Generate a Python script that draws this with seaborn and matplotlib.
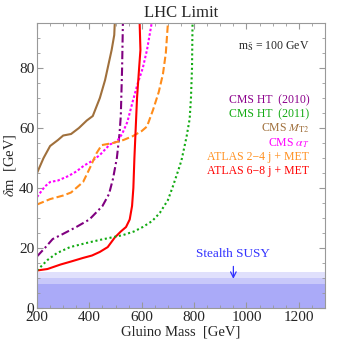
import matplotlib
matplotlib.use("Agg")
import matplotlib.pyplot as plt
import seaborn as sns
import pandas as pd
from matplotlib.ticker import MultipleLocator

# curve data (gluino mass [GeV], delta m [GeV])
mt2_x = [200, 225, 250, 280, 300, 330, 360, 390, 413, 440, 460, 470, 485, 495, 497]
mt2_y = [45, 50, 54, 56, 57.5, 58, 60, 62.5, 64, 70, 76, 80, 86, 91, 95]

ht10_x = [200, 230, 260, 295, 350, 400, 450, 475, 490, 505, 515, 520, 525, 528]
ht10_y = [17.2, 20, 23, 24.5, 27, 29.5, 34, 38, 43, 50, 58, 64, 80, 95]

alphat_x = [200, 230, 250, 280, 320, 350, 380, 410, 440, 478, 505, 525, 545, 566, 585, 604, 620, 638]
alphat_y = [37, 40.5, 42, 42.5, 44, 45.5, 47.5, 49, 51, 54.5, 55.5, 58, 62, 69, 75, 80, 86, 95]

atlas24_x = [200, 250, 300, 330, 376, 402, 428, 447, 490, 530, 566, 600, 620, 643, 665, 681, 692, 700]
atlas24_y = [34.5, 36.3, 37.5, 38.5, 42, 46.7, 51.7, 54.3, 55, 56, 57.3, 59, 60.5, 66, 72, 78, 85, 95]

atlas68_x = [200, 240, 290, 330, 376, 410, 440, 470, 497, 520, 540, 554, 563, 568, 572, 577, 582, 590, 595, 592]
atlas68_y = [12.5, 13, 14.5, 15.5, 16.7, 17.5, 18.7, 20.3, 23.5, 25.5, 27, 29.5, 34, 40, 50, 60, 70, 80, 86, 95]

ht11_x = [200, 240, 276, 326, 390, 440, 528, 570, 604, 640, 669, 700, 718, 740, 752, 771, 783, 788, 792, 794]
ht11_y = [12.5, 16, 18.3, 20.3, 21.7, 22.7, 24.3, 25.5, 27, 29, 31.7, 36, 40.3, 46, 49.3, 57, 63, 70, 80, 95]

labels = ["CMS HT  (2010)", "CMS HT  (2011)", r"CMS $M_{\mathrm{T2}}$",
          r"CMS $\alpha_T$", "ATLAS 2\u22124 j + MET", "ATLAS 6\u22128 j + MET"]
label_colors = ["#8b008b", "#11aa11", "#a0703c", "#ff00ff", "#ff9020", "#ff0000"]

# stealth band edges
band_levels = [8, 10, 12]
band_colors = ["#aaaaf8", "#c8c8fa", "#e0e0fc"]

sns.set_style("ticks")
plt.rcParams["font.family"] = ["Liberation Serif", "DejaVu Serif"]
plt.rcParams["mathtext.fontset"] = "stix"

fig = plt.figure(figsize=(3.44, 3.46), dpi=100)
ax = fig.add_axes([0.1076, 0.1098, 0.8372, 0.8237])

# stealth region
for lvl, col in reversed(list(zip(band_levels, band_colors))):
    ax.axhspan(0, lvl, color=col, lw=0, zorder=0)

curves = [
    (mt2_x, mt2_y, "#a0703c", None),
    (ht10_x, ht10_y, "#800080", (0, (4, 1.5, 1, 1.5))),
    (alphat_x, alphat_y, "#ff00ff", (0, (1.2, 1))),
    (atlas24_x, atlas24_y, "#ff8c1a", (0, (3.5, 1.5))),
    (atlas68_x, atlas68_y, "#ff0000", None),
    (ht11_x, ht11_y, "#11aa11", (0, (1, 1.3))),
]
for xs, ys, col, dash in curves:
    df = pd.DataFrame({"m": xs, "dm": ys})
    sns.lineplot(data=df, x="m", y="dm", sort=False, color=col, lw=1.5, ax=ax)
    if dash is not None:
        ax.lines[-1].set_linestyle(dash)

ax.set_xlim(200, 1300)
ax.set_ylim(0, 95)
ax.xaxis.set_major_locator(MultipleLocator(200))
ax.xaxis.set_minor_locator(MultipleLocator(50))
ax.yaxis.set_major_locator(MultipleLocator(20))
ax.yaxis.set_minor_locator(MultipleLocator(5))
ax.tick_params(which="both", direction="in", top=True, right=True, color="#999999",
               labelsize=11, pad=2)
ax.tick_params(which="major", length=4)
ax.tick_params(which="minor", length=2)
for s in ax.spines.values():
    s.set_color("#999999")
    s.set_linewidth(0.8)

ax.set_xlabel("Gluino Mass  [GeV]", fontsize=10.5, labelpad=1)
ax.set_ylabel(r"$\delta$m  [GeV]", fontsize=10.5, labelpad=1)
ax.set_title("LHC Limit", fontsize=12, pad=4)

# legend text block
for i, (lab, col) in enumerate(zip(labels, label_colors)):
    ax.text(1240, 69.3 - i * 4.75, lab, color=col, fontsize=8.5, ha="right", va="center")

ax.text(1240, 87.3, r"m$_{\tilde{\mathrm{S}}}$ = 100 GeV", fontsize=8.5, ha="right", va="center")

ax.text(950, 18, "Stealth SUSY", color="#3333ff", fontsize=9.5, ha="center", va="center")
ax.annotate("", xy=(950, 8.8), xytext=(950, 14.8),
            arrowprops=dict(arrowstyle="->", color="#3333ff", lw=0.9))

fig.savefig("out.png", dpi=100)
